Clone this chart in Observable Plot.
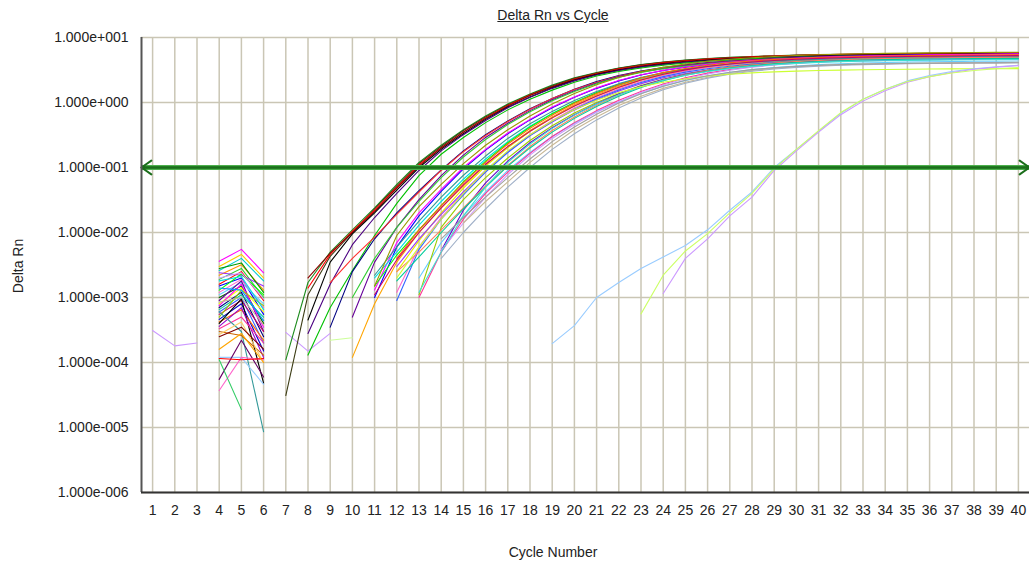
<!DOCTYPE html>
<html>
<head>
<meta charset="utf-8">
<script src="https://cdn.jsdelivr.net/npm/d3@7"></script>
<script src="https://cdn.jsdelivr.net/npm/@observablehq/plot@0.6"></script>
<style>
  html, body { margin: 0; padding: 0; background: #ffffff; }
  #wrap { position: relative; width: 1029px; height: 567px; font-family: "Liberation Sans", Arial, sans-serif; color: #222; }
  .lbl { position: absolute; white-space: nowrap; font-size: 14px; }
  #title { left: 553px; top: 7px; transform: translateX(-50%); text-decoration: underline; }
  #xlabel { left: 553px; top: 544px; transform: translateX(-50%); }
  #ylabel { left: 18px; top: 266px; transform: translate(-50%, -50%) rotate(-90deg); }
</style>
</head>
<body>
<div id="wrap">
  <div id="chart"></div>
  <div class="lbl" id="title">Delta Rn vs Cycle</div>
  <div class="lbl" id="xlabel">Cycle Number</div>
  <div class="lbl" id="ylabel">Delta Rn</div>
</div>
<script>
// Cycle axis ticks and Delta Rn decades
const cycleTicks = [1,2,3,4,5,6,7,8,9,10,11,12,13,14,15,16,17,18,19,20,21,22,23,24,25,26,27,28,29,30,31,32,33,34,35,36,37,38,39,40];
const rnTicks = [1e-6, 1e-5, 1e-4, 1e-3, 1e-2, 1e-1, 1, 10];
const threshold = 0.1;

// Amplification curves: first positive cycle, trace colour, Delta Rn per cycle
const ampStart = [7,7,8,8,8,8,8,9,11,9,10,10,11,11,10,11,12,12,12,11,12,13,13,13,14,14,12,12,13,15,14,12,14,11,12,11];
const ampColors = ["#1e8c1e","#3c3c14","#ff0000","#8b0000","#000000","#4b0082","#00c000","#000080","#0000ff","#ff3030",
  "#660099","#33cc33","#ff00ff","#00e0e0","#ffa500","#00ff00","#e6e600","#ff66cc","#9933ff","#339999",
  "#3366ff","#66ccff","#99cc00","#ff3399","#6600cc","#cc99ff","#ff8060","#00cc99","#40e0d0","#c8b896",
  "#a0b0c8","#ccff33","#a0a0a0","#999900","#ff6600","#cc0066"];
const ampValues = [
  [1.1e-4,1.7e-3,5.0e-3,1.1e-2,2.4e-2,5.5e-2,0.12,0.22,0.38,0.62,0.95,1.35,1.85,2.4,2.9,3.4,3.85,4.2,4.5,4.75,4.95,5.1,5.25,5.35,5.45,5.5,5.55,5.6,5.65,5.7,5.7,5.75,5.75,5.8],
  [3.1e-5,1.1e-3,4.3e-3,1.0e-2,2.3e-2,5.2e-2,0.115,0.21,0.37,0.6,0.92,1.32,1.8,2.35,2.85,3.35,3.8,4.15,4.45,4.7,4.9,5.05,5.2,5.3,5.4,5.45,5.5,5.55,5.6,5.6,5.65,5.65,5.7,5.7],
  [1.4e-3,4.6e-3,1.05e-2,2.2e-2,5.0e-2,0.11,0.2,0.35,0.58,0.9,1.3,1.75,2.3,2.8,3.3,3.7,4.1,4.4,4.65,4.85,5.05,5.2,5.3,5.4,5.5,5.55,5.6,5.65,5.7,5.75,5.75,5.8,5.85],
  [2.0e-3,4.8e-3,1.0e-2,2.1e-2,4.8e-2,0.105,0.2,0.35,0.57,0.88,1.28,1.75,2.25,2.75,3.2,3.65,4.0,4.3,4.55,4.75,4.95,5.1,5.2,5.3,5.4,5.45,5.5,5.55,5.6,5.6,5.65,5.7,5.7],
  [4.5e-4,3.5e-3,9.5e-3,2.0e-2,4.5e-2,0.1,0.19,0.33,0.55,0.85,1.22,1.68,2.2,2.7,3.15,3.55,3.9,4.2,4.45,4.65,4.85,5.0,5.1,5.2,5.3,5.35,5.4,5.45,5.5,5.5,5.55,5.55,5.6],
  [2.8e-4,1.6e-3,6.5e-3,1.7e-2,4.0e-2,0.09,0.18,0.32,0.53,0.83,1.2,1.65,2.15,2.65,3.1,3.5,3.85,4.15,4.4,4.6,4.8,4.95,5.05,5.15,5.25,5.3,5.35,5.4,5.45,5.45,5.5,5.5,5.55],
  [1.3e-4,7.0e-4,2.6e-3,9.0e-3,2.8e-2,7.5e-2,0.16,0.29,0.49,0.77,1.12,1.55,2.05,2.55,3.0,3.4,3.75,4.05,4.3,4.5,4.7,4.85,4.95,5.05,5.15,5.2,5.25,5.3,5.35,5.35,5.4,5.4,5.45],
  [3.5e-4,2.5e-3,8.0e-3,2.0e-2,4.4e-2,9.2e-2,0.18,0.32,0.52,0.8,1.15,1.6,2.1,2.6,3.05,3.45,3.8,4.1,4.35,4.55,4.75,4.9,5.0,5.1,5.2,5.25,5.3,5.35,5.4,5.45,5.45,5.5],
  [1.0e-3,6.0e-3,1.8e-2,4.3e-2,9.5e-2,0.185,0.33,0.54,0.83,1.2,1.65,2.15,2.65,3.1,3.5,3.85,4.15,4.4,4.6,4.8,4.95,5.05,5.15,5.25,5.3,5.35,5.4,5.45,5.45,5.5],
  [1.7e-3,4.0e-3,8.5e-3,1.9e-2,4.2e-2,9.0e-2,0.175,0.31,0.51,0.79,1.15,1.58,2.05,2.55,3.0,3.4,3.75,4.05,4.3,4.5,4.7,4.85,4.95,5.05,5.15,5.2,5.25,5.3,5.35,5.35,5.4,5.4],
  [5.0e-4,3.5e-3,1.2e-2,3.2e-2,7.5e-2,0.155,0.29,0.48,0.75,1.1,1.52,2.0,2.5,2.95,3.35,3.7,4.0,4.25,4.45,4.65,4.8,4.9,5.0,5.1,5.15,5.2,5.25,5.3,5.3,5.35,5.35],
  [1.0e-3,4.0e-3,1.2e-2,3.0e-2,7.0e-2,0.145,0.27,0.46,0.72,1.06,1.48,1.95,2.45,2.9,3.3,3.65,3.95,4.2,4.4,4.6,4.75,4.85,4.95,5.05,5.1,5.15,5.2,5.25,5.25,5.3,5.3],
  [1.3e-3,7.0e-3,2.0e-2,4.6e-2,0.1,0.19,0.34,0.55,0.85,1.22,1.68,2.18,2.68,3.12,3.52,3.87,4.17,4.42,4.62,4.8,4.95,5.08,5.18,5.26,5.33,5.4,5.45,5.5,5.55,5.6],
  [2.0e-3,5.0e-3,1.3e-2,3.0e-2,6.6e-2,0.135,0.25,0.43,0.68,1.0,1.4,1.85,2.3,2.75,3.15,3.5,3.8,4.05,4.25,4.4,4.55,4.65,4.75,4.8,4.85,4.9,4.95,5.0,5.0,5.05],
  [1.2e-4,8.0e-4,3.5e-3,1.0e-2,2.4e-2,5.2e-2,0.11,0.21,0.37,0.6,0.92,1.32,1.78,2.25,2.7,3.1,3.45,3.75,4.0,4.2,4.4,4.55,4.65,4.75,4.85,4.9,4.95,5.0,5.05,5.05,5.1],
  [1.5e-3,4.5e-3,1.1e-2,2.6e-2,6.0e-2,0.125,0.24,0.42,0.67,1.0,1.42,1.9,2.4,2.85,3.25,3.6,3.9,4.15,4.35,4.5,4.65,4.75,4.85,4.95,5.0,5.05,5.1,5.15,5.15,5.2],
  [2.5e-3,7.5e-3,2.0e-2,4.8e-2,0.105,0.2,0.36,0.58,0.88,1.25,1.7,2.2,2.65,3.1,3.5,3.85,4.1,4.35,4.55,4.7,4.85,4.95,5.05,5.1,5.15,5.2,5.25,5.3,5.3],
  [1.2e-3,6.0e-3,1.7e-2,4.0e-2,8.8e-2,0.175,0.32,0.53,0.82,1.18,1.62,2.1,2.6,3.05,3.45,3.8,4.1,4.35,4.55,4.7,4.85,4.95,5.05,5.15,5.2,5.25,5.3,5.35,5.4],
  [3.0e-3,8.0e-3,1.9e-2,4.2e-2,9.0e-2,0.175,0.31,0.5,0.77,1.1,1.5,1.95,2.4,2.8,3.15,3.45,3.7,3.9,4.05,4.2,4.3,4.4,4.45,4.5,4.55,4.6,4.6,4.65,4.65],
  [2.2e-3,6.0e-3,1.5e-2,3.5e-2,7.6e-2,0.15,0.28,0.47,0.73,1.07,1.48,1.95,2.42,2.88,3.28,3.62,3.92,4.17,4.37,4.52,4.65,4.75,4.85,4.92,4.98,5.03,5.07,5.1,5.13,5.15],
  [9.0e-4,5.5e-3,1.6e-2,3.8e-2,8.5e-2,0.17,0.31,0.51,0.79,1.14,1.56,2.03,2.5,2.93,3.3,3.62,3.9,4.12,4.3,4.45,4.57,4.67,4.75,4.82,4.87,4.92,4.95,4.98,5.0],
  [2.0e-3,7.0e-3,1.8e-2,4.2e-2,9.0e-2,0.17,0.3,0.48,0.72,1.02,1.38,1.78,2.18,2.56,2.9,3.2,3.45,3.65,3.82,3.95,4.05,4.12,4.18,4.22,4.26,4.3,4.32,4.35],
  [1.1e-3,1.2e-2,3.2e-2,7.0e-2,0.14,0.26,0.44,0.69,1.0,1.38,1.82,2.28,2.72,3.12,3.47,3.77,4.02,4.22,4.38,4.52,4.62,4.7,4.77,4.82,4.87,4.9,4.93,4.95],
  [1.0e-3,5.0e-3,1.6e-2,4.0e-2,8.5e-2,0.165,0.3,0.49,0.75,1.08,1.48,1.93,2.4,2.83,3.22,3.55,3.83,4.06,4.25,4.4,4.52,4.62,4.7,4.76,4.81,4.85,4.88,4.9],
  [5.3e-3,2.2e-2,5.8e-2,0.125,0.24,0.41,0.65,0.96,1.35,1.8,2.25,2.7,3.1,3.45,3.75,4.0,4.2,4.35,4.48,4.58,4.66,4.72,4.77,4.81,4.84,4.86,4.88],
  [5.3e-3,1.4e-2,3.5e-2,7.8e-2,0.155,0.28,0.46,0.71,1.03,1.42,1.86,2.32,2.75,3.14,3.48,3.77,4.0,4.2,4.36,4.48,4.58,4.66,4.72,4.77,4.81,4.84,4.86],
  [2.5e-3,5.0e-3,1.1e-2,2.4e-2,5.2e-2,0.108,0.21,0.37,0.6,0.91,1.3,1.75,2.22,2.68,3.1,3.47,3.78,4.04,4.25,4.42,4.55,4.65,4.73,4.8,4.85,4.89,4.92,4.95,4.97],
  [1.8e-3,4.2e-3,1.0e-2,2.3e-2,5.0e-2,0.105,0.2,0.35,0.57,0.87,1.25,1.7,2.17,2.62,3.03,3.38,3.68,3.93,4.13,4.28,4.4,4.5,4.57,4.63,4.67,4.7,4.73,4.75,4.77],
  [1.2e-3,5.0e-3,1.8e-2,5.0e-2,0.12,0.23,0.4,0.64,0.95,1.32,1.75,2.2,2.62,3.0,3.33,3.6,3.82,4.0,4.14,4.25,4.33,4.4,4.45,4.49,4.52,4.55,4.57,4.59],
  [1.4e-2,3.0e-2,6.0e-2,0.12,0.22,0.38,0.6,0.9,1.25,1.65,2.05,2.45,2.8,3.1,3.35,3.55,3.7,3.82,3.9,3.97,4.02,4.06,4.09,4.11,4.13,4.15],
  [4.0e-3,1.0e-2,2.3e-2,5.0e-2,0.1,0.19,0.33,0.54,0.82,1.17,1.57,1.98,2.37,2.72,3.02,3.27,3.47,3.62,3.74,3.83,3.9,3.95,3.99,4.02,4.05,4.07,4.09],
  [2.0e-3,6.0e-3,1.6e-2,4.0e-2,9.0e-2,0.18,0.32,0.52,0.78,1.08,1.42,1.75,2.05,2.32,2.55,2.72,2.86,2.96,3.04,3.1,3.15,3.19,3.22,3.25,3.27,3.29,3.3,3.31,3.32],
  [8.0e-3,1.7e-2,3.5e-2,7.0e-2,0.135,0.25,0.42,0.66,0.98,1.36,1.78,2.2,2.58,2.92,3.2,3.43,3.6,3.73,3.83,3.9,3.95,3.99,4.02,4.04,4.06,4.07,4.08],
  [1.5e-3,9.0e-3,2.5e-2,5.5e-2,0.115,0.22,0.38,0.62,0.95,1.37,1.87,2.42,2.97,3.47,3.92,4.3,4.62,4.88,5.1,5.28,5.42,5.53,5.62,5.69,5.75,5.8,5.84,5.87,5.9,5.92],
  [4.0e-3,1.1e-2,2.6e-2,5.8e-2,0.12,0.23,0.4,0.64,0.97,1.38,1.86,2.38,2.88,3.34,3.74,4.08,4.36,4.58,4.76,4.9,5.01,5.1,5.17,5.23,5.28,5.32,5.35,5.38,5.4],
  [1.1e-3,3.8e-3,1.0e-2,2.4e-2,5.4e-2,0.112,0.21,0.36,0.58,0.88,1.26,1.72,2.22,2.72,3.18,3.58,3.92,4.2,4.43,4.62,4.77,4.89,4.98,5.05,5.11,5.16,5.2,5.23,5.25,5.27]
];

// Late-rising wells
const lateStart = [19, 24, 23];
const lateColors = ["#99ccff", "#cc99ff", "#ccff66"];
const lateValues = [
  [1.95e-4,3.7e-4,1.0e-3,1.7e-3,2.8e-3,4.2e-3,6.3e-3,1.1e-2,2.2e-2,4.2e-2,0.1,0.19,0.36,0.68,1.12,1.6,2.15,2.6,3.0,3.3,3.55,3.75],
  [1.15e-3,4.0e-3,8.0e-3,1.8e-2,3.5e-2,9.0e-2,0.18,0.35,0.65,1.05,1.52,2.05,2.5,2.9,3.25,3.5,3.7],
  [5.6e-4,2.2e-3,5.2e-3,9.6e-3,2.0e-2,4.0e-2,9.5e-2,0.19,0.37,0.7,1.12,1.6,2.1,2.5,2.85,3.1,3.3,3.45]
];

// Baseline-cycle fragments (positive values only)
const earlyStart = [1,7,9,4,4,4,4,4,4,4,4,4,4,4,4,4,4,4,4,4,4,4,4,4,4,4,4,4,4,4,4,4,4,4,4,4,4,4,4,4,4,4,4];
const earlyColors = ["#cc99ff","#cc99ff","#ccff99",
  "#ff00ff","#ffcc00","#00cccc","#ff9900","#33cc33","#9933ff","#ff0000","#0000ff","#00ff00","#ff66cc",
  "#66ccff","#006600","#660099","#ffff00","#ff00ff","#000080","#00cc99","#3366ff","#cc0066","#99cc00",
  "#0000cc","#ff6600","#000000","#9900cc","#ff3399","#339999","#cc6600","#ffcc66","#800000","#99ccff",
  "#660066","#ff66cc","#33cc66","#ff0000","#ffa500","#00e0e0","#c8b896","#cc99ff","#0099ff","#009900"];
const earlyValues = [
  [3.1e-4,1.8e-4,2.0e-4],
  [2.9e-4,1.5e-4,2.8e-4],
  [2.2e-4,2.4e-4],
  [3.6e-3,5.5e-3,2.4e-3],
  [3.0e-3,4.6e-3,2.0e-3],
  [2.6e-3,4.0e-3,1.8e-3],
  [2.2e-3,3.2e-3,1.3e-3],
  [1.9e-3,2.8e-3,1.0e-3],
  [2.4e-3,2.2e-3,1.5e-3],
  [1.6e-3,2.5e-3,9.0e-4],
  [1.5e-3,2.0e-3,5.5e-4],
  [1.3e-3,2.3e-3,1.1e-3],
  [1.2e-3,1.9e-3,7.0e-4],
  [1.1e-3,1.7e-3,8.0e-4],
  [1.0e-3,1.5e-3,4.0e-4],
  [9.0e-4,1.8e-3,3.0e-4],
  [8.0e-4,1.4e-3,6.0e-4],
  [7.5e-4,1.6e-3,3.5e-4],
  [7.0e-4,1.2e-3,2.5e-4],
  [6.5e-4,1.1e-3,5.0e-4],
  [6.0e-4,1.0e-3,2.0e-4],
  [5.5e-4,9.0e-4,3.0e-4],
  [5.0e-4,1.3e-3,7.5e-4],
  [4.6e-4,8.0e-4,1.5e-4],
  [4.2e-4,6.5e-4,2.2e-4],
  [4.0e-4,9.5e-4,4.8e-5],
  [3.6e-4,7.0e-4,1.2e-4],
  [3.3e-4,5.0e-4,2.0e-4],
  [6.0e-4,3.0e-4,8.6e-6],
  [3.0e-4,2.6e-4,1.3e-4],
  [2.7e-4,4.2e-4,1.0e-4],
  [2.5e-4,3.5e-4,1.6e-4],
  [1.2e-4,1.2e-4,4.6e-5],
  [5.5e-5,2.2e-4,6.0e-5],
  [3.7e-5,1.2e-4,1.1e-4],
  [1.1e-4,1.9e-5],
  [1.15e-4,1.1e-4,1.15e-4],
  [1.6e-4,2.8e-4,1.0e-4],
  [1.8e-3,2.1e-3,6.5e-4],
  [8.5e-4,1.0e-3,3.8e-4],
  [2.0e-3,2.4e-3,9.5e-4],
  [1.4e-3,1.3e-3,4.4e-4],
  [2.8e-3,3.4e-3,1.2e-3]
];

// Long-form rows for Plot.line, one id per trace
const rows = [];
function addTraces(starts, colors, values, prefix) {
  values.forEach((vals, i) => {
    vals.forEach((v, j) => rows.push({id: prefix + i, cycle: starts[i] + j, rn: v, color: colors[i]}));
  });
}
addTraces(earlyStart, earlyColors, earlyValues, "early");
addTraces(ampStart, ampColors, ampValues, "amp");
addTraces(lateStart, lateColors, lateValues, "late");

// 1.000e+001 style labels
function sci(d) {
  const e = Math.round(Math.log10(d));
  return "1.000e" + (e < 0 ? "-" : "+") + String(Math.abs(e)).padStart(3, "0");
}

const gridColor = "#cac6b5";
const chart = Plot.plot({
  width: 1029,
  height: 567,
  marginLeft: 141,
  marginRight: 0,
  marginTop: 37,
  marginBottom: 75,
  style: {fontFamily: "'Liberation Sans', Arial, sans-serif", background: "transparent", color: "#222"},
  x: {domain: [0.5, 40.5]},
  y: {type: "log", domain: [1e-6, 10]},
  color: {type: "identity"},
  marks: [
    Plot.gridX(cycleTicks, {stroke: gridColor, strokeOpacity: 1, strokeWidth: 1.5}),
    Plot.gridY(rnTicks, {stroke: gridColor, strokeOpacity: 1, strokeWidth: 1.5}),
    Plot.axisX(cycleTicks, {tickSize: 0, tickPadding: 13, fontSize: 14, fontFamily: "'Liberation Sans Narrow', 'Liberation Sans', Arial", tickFormat: d => String(d), label: null}),
    Plot.axisY(rnTicks, {tickSize: 0, tickPadding: 13, fontSize: 14, tickFormat: sci, label: null}),
    Plot.line(rows, {x: "cycle", y: "rn", z: "id", stroke: "color", strokeWidth: 1.1}),
    // threshold: light green band with a darker core, arrowheads at both ends
    Plot.ruleY([threshold], {stroke: "#4cb04c", strokeWidth: 5}),
    Plot.ruleY([threshold], {stroke: "#217f21", strokeWidth: 1.6}),
    Plot.arrow([{a: 40.5, b: 0.5, t: threshold}, {a: 0.5, b: 40.5, t: threshold}], {x1: "a", x2: "b", y1: "t", y2: "t", stroke: "#1b6e1b", strokeWidth: 2, headLength: 9, headAngle: 70}),
    Plot.ruleX([0.5], {stroke: "#555555", strokeWidth: 2}),
    Plot.ruleY([1e-6], {stroke: "#333333", strokeWidth: 2})
  ]
});
document.getElementById("chart").append(chart);
</script>
</body>
</html>
